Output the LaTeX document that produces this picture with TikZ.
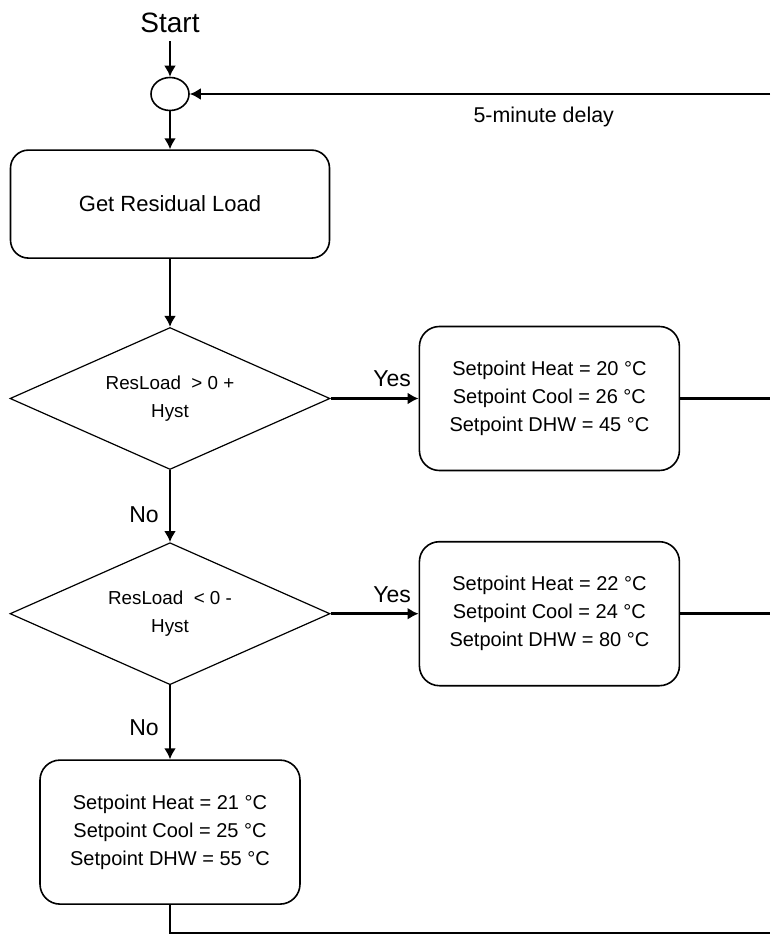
\documentclass[tikz,border=0pt]{standalone}
\usepackage{fontspec}
\setmainfont{Liberation Sans}
\usetikzlibrary{arrows.meta, positioning, shapes.geometric}
\tikzset{
  >=Latex,
  flow/.style={-{Latex[length=5.5pt,width=6pt]}, line width=1.3pt},
  wire/.style={line width=1.3pt},
  junction/.style={
    draw, ellipse, line width=0.8pt, inner sep=0pt,
    minimum width=19pt, minimum height=16.5pt
  },
  procbox/.style={
    draw, rounded corners=9pt, line width=0.8pt, align=center,
    minimum width=159.5pt, minimum height=54pt, font=\fontsize{11}{13}\selectfont
  },
  setbox/.style={
    draw, rounded corners=10pt, line width=0.8pt, align=center,
    minimum width=130pt, minimum height=72pt, font=\fontsize{10}{14}\selectfont
  },
  decision/.style={
    draw, diamond, shape aspect=2.25, inner sep=0pt, line width=0.6pt, align=center,
    minimum width=160pt, minimum height=71pt, font=\fontsize{9.4}{14}\selectfont
  },
  lbl/.style={font=\fontsize{11.5}{13}\selectfont, inner sep=2pt}
}

\begin{document}
\begin{tikzpicture}[x=0.5pt, y=-0.5pt]
  \useasboundingbox (0,0) rectangle (770,935);
  \coordinate (edge) at (770,933);
  \node[font=\fontsize{14}{16}\selectfont, inner sep=4pt] (start) at (170,23) {Start};
  \node[junction] (join) at (170,94) {};
  \node[procbox, below=19pt of join] (getload) {Get Residual Load};
  \node[decision, below=34pt of getload] (hi) {ResLoad\ \ > 0 +\\Hyst};
  \node[setbox, right=44pt of hi] (sethi)
    {Setpoint Heat = 20 °C\\Setpoint Cool = 26 °C\\Setpoint DHW = 45 °C};
  \node[decision, below=36pt of hi] (lo) {ResLoad\ \ < 0 -\\Hyst};
  \node[setbox, right=44pt of lo] (setlo)
    {Setpoint Heat = 22 °C\\Setpoint Cool = 24 °C\\Setpoint DHW = 80 °C};
  \node[setbox, below=37pt of lo] (setmid)
    {Setpoint Heat = 21 °C\\Setpoint Cool = 25 °C\\Setpoint DHW = 55 °C};

  \draw[flow] (start) -- (join);
  \draw[flow] (join) -- (getload);
  \draw[flow] (getload) -- (hi);
  \draw[flow] (hi) -- node[lbl, above=3pt, pos=0.7] {Yes} (sethi);
  \draw[flow] (hi) -- node[lbl, left=3pt, pos=0.62] {No} (lo);
  \draw[flow] (lo) -- node[lbl, above=3pt, pos=0.7] {Yes} (setlo);
  \draw[flow] (lo) -- node[lbl, left=3pt, pos=0.57] {No} (setmid);
  \draw[wire] (sethi) -- (sethi.east -| edge);
  \draw[wire] (setlo) -- (setlo.east -| edge);
  \draw[wire] (setmid) |- (edge);
  \draw[flow] (edge |- join) -- node[lbl, below=4pt, pos=0.39, font=\fontsize{10.7}{13}\selectfont] {5-minute delay} (join);
\end{tikzpicture}
\end{document}
